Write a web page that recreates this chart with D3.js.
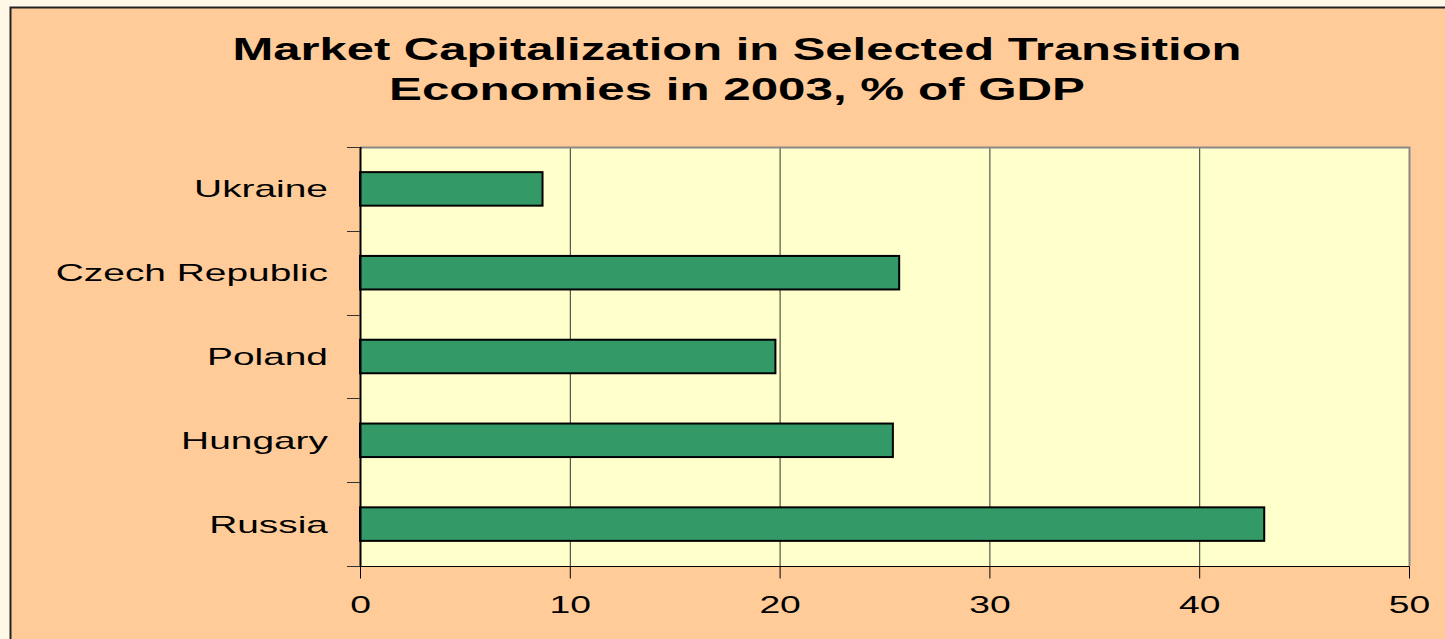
<!DOCTYPE html>
<html>
<head>
<meta charset="utf-8">
<script src="https://cdn.jsdelivr.net/npm/d3@7"></script>
<style>
  html, body { margin: 0; padding: 0; background: #fff8e6; }
  svg { display: block; font-family: "Liberation Sans", Arial, sans-serif; }
</style>
</head>
<body>
<div id="chart"></div>
<script>
// Market capitalization, % of GDP, 2003
const countries = ['Ukraine', 'Czech Republic', 'Poland', 'Hungary', 'Russia'];
const values = [8.7, 25.7, 19.8, 25.4, 43.1];
const xTicks = [0, 10, 20, 30, 40, 50];
const titleLines = ['Market Capitalization in Selected Transition', 'Economies in 2003, % of GDP'];

const W = 1445, H = 639;
const plot = { left: 360, right: 1409, top: 147, bottom: 566 };
const stretch = 1.62; // the original text is drawn wide

const svg = d3.select('#chart').append('svg')
  .attr('width', W)
  .attr('height', H);

// outer frame
svg.append('rect')
  .attr('x', 10.5).attr('y', 7.5)
  .attr('width', W).attr('height', H)
  .attr('fill', '#ffcc99')
  .attr('stroke', '#222')
  .attr('stroke-width', 2);

// title
const titleWidths = [1009, 696];
svg.append('g')
  .selectAll('text')
  .data(titleLines)
  .join('text')
  .attr('x', 737)
  .attr('y', (d, i) => 60 + i * 40)
  .attr('text-anchor', 'middle')
  .attr('font-size', 32)
  .attr('font-weight', 'bold')
  .attr('textLength', (d, i) => titleWidths[i])
  .attr('lengthAdjust', 'spacingAndGlyphs')
  .attr('fill', '#000')
  .text(d => d);

const x = d3.scaleLinear().domain([0, 50]).range([plot.left, plot.right]);
const y = d3.scaleBand().domain(countries).range([plot.top, plot.bottom]).paddingInner(0.6).paddingOuter(0.3);
const band = d3.scaleBand().domain(countries).range([plot.top, plot.bottom]);

// plot area
svg.append('rect')
  .attr('x', plot.left).attr('y', plot.top)
  .attr('width', plot.right - plot.left).attr('height', plot.bottom - plot.top)
  .attr('fill', '#ffffcc');

// gridlines
svg.append('g')
  .selectAll('line')
  .data(xTicks.slice(1, -1))
  .join('line')
  .attr('x1', d => x(d) + 0.5).attr('x2', d => x(d) + 0.5)
  .attr('y1', plot.top).attr('y2', plot.bottom)
  .attr('stroke', '#333')
  .attr('stroke-width', 1);

// plot border top/right (gray)
svg.append('path')
  .attr('d', `M${plot.left},${plot.top + 0.5}H${plot.right + 0.5}V${plot.bottom}`)
  .attr('fill', 'none')
  .attr('stroke', '#888')
  .attr('stroke-width', 2);

// bars
svg.append('g')
  .selectAll('rect')
  .data(countries)
  .join('rect')
  .attr('x', x(0))
  .attr('y', d => y(d))
  .attr('width', (d, i) => x(values[i]) - x(0))
  .attr('height', y.bandwidth())
  .attr('fill', '#339966')
  .attr('stroke', '#000')
  .attr('stroke-width', 2);

// x axis
const xAxis = svg.append('g')
  .attr('transform', `translate(0,${plot.bottom + 0.5})`)
  .call(d3.axisBottom(x).tickValues(xTicks).tickSize(12).tickFormat(''));
xAxis.select('.domain').attr('d', `M${plot.left - 13},0H${plot.right + 0.5}`).attr('stroke', '#000');
xAxis.selectAll('.tick line').attr('stroke', '#000');
xAxis.selectAll('.tick')
  .append('text')
  .attr('transform', `translate(0,46) scale(${stretch},1)`)
  .attr('text-anchor', 'middle')
  .attr('font-size', 23)
  .attr('font-family', '"Liberation Sans", Arial, sans-serif')
  .attr('fill', '#000')
  .text(d => d);

// y axis: ticks at category boundaries
const yEdges = countries.map(c => band(c)).concat([plot.bottom]);
svg.append('line')
  .attr('x1', plot.left + 0.5).attr('x2', plot.left + 0.5)
  .attr('y1', plot.top).attr('y2', plot.bottom)
  .attr('stroke', '#000').attr('stroke-width', 2);
svg.append('g')
  .selectAll('line')
  .data(yEdges)
  .join('line')
  .attr('x1', plot.left - 13).attr('x2', plot.left)
  .attr('y1', d => Math.round(d) + 0.5).attr('y2', d => Math.round(d) + 0.5)
  .attr('stroke', '#333');

svg.append('g')
  .selectAll('text')
  .data(countries)
  .join('text')
  .attr('transform', d => `translate(328,${band(d) + band.bandwidth() / 2}) scale(${stretch},1)`)
  .attr('dy', '0.35em')
  .attr('text-anchor', 'end')
  .attr('font-size', 24)
  .attr('fill', '#000')
  .text(d => d);
</script>
</body>
</html>
